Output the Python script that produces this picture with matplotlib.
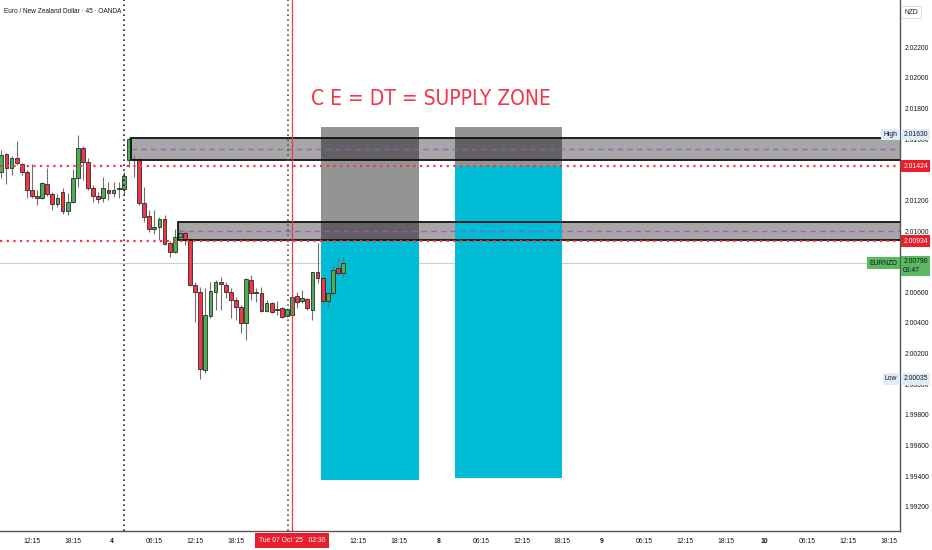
import numpy as np
import matplotlib
matplotlib.use("Agg")
import matplotlib.pyplot as plt
from matplotlib import font_manager
from matplotlib.font_manager import FontProperties
from matplotlib.patches import Rectangle

plt.rcParams["font.family"] = ["Liberation Sans", "DejaVu Sans"]

# タイトル用の細いフォントがあれば使う (立体のみ)
narrow = [f for f in font_manager.fontManager.ttflist
          if ("Narrow" in f.name or "Condensed" in f.name or f.stretch == "condensed")
          and f.style == "normal" and f.weight in ("normal", 400, "regular")]
title_font = FontProperties(fname=narrow[0].fname) if narrow else FontProperties(family="Liberation Sans")

# EURNZD 45分足 (始値, 高値, 安値, 終値)
opens = [2.01386, 2.01503, 2.01412, 2.01477, 2.01438, 2.01386, 2.01268, 2.01229, 2.01216, 2.01308,
         2.01242, 2.01177, 2.01255, 2.01131, 2.01190, 2.01347, 2.01542, 2.01451, 2.01281, 2.01229,
         2.01216, 2.01268, 2.01249, 2.01275, 2.01275, 2.01464, 2.01471, 2.01471, 2.01183, 2.01099,
         2.01014, 2.01027, 2.01079, 2.00923, 2.00864, 2.00962, 2.00988, 2.00942, 2.00649, 2.00603,
         2.00094, 2.00446, 2.00603, 2.00668, 2.00649, 2.00603, 2.00551, 2.00505, 2.00401, 2.00681,
         2.00603, 2.00597, 2.00479, 2.00531, 2.00492, 2.00499, 2.00446, 2.00453, 2.00577, 2.00544,
         2.00557, 2.00486, 2.00734, 2.00695, 2.00544, 2.00597, 2.00760, 2.00727]
highs = [2.01529, 2.01510, 2.01490, 2.01588, 2.01444, 2.01399, 2.01438, 2.01268, 2.01321, 2.01412,
         2.01255, 2.01242, 2.01281, 2.01249, 2.01405, 2.01627, 2.01555, 2.01477, 2.01301, 2.01255,
         2.01353, 2.01321, 2.01321, 2.01321, 2.01386, 2.01614, 2.01497, 2.01477, 2.01288, 2.01138,
         2.01138, 2.01092, 2.01105, 2.00936, 2.01014, 2.01014, 2.01007, 2.00955, 2.00668, 2.00636,
         2.00629, 2.00668, 2.00681, 2.00701, 2.00668, 2.00629, 2.00570, 2.00518, 2.00695, 2.00714,
         2.00629, 2.00636, 2.00551, 2.00538, 2.00544, 2.00505, 2.00499, 2.00577, 2.00603, 2.00616,
         2.00564, 2.00734, 2.00923, 2.00701, 2.00597, 2.00779, 2.00825, 2.00832]
lows = [2.01347, 2.01308, 2.01366, 2.01431, 2.01366, 2.01216, 2.01216, 2.01170, 2.01209, 2.01229,
        2.01138, 2.01157, 2.01112, 2.01105, 2.01183, 2.01288, 2.01334, 2.01268, 2.01190, 2.01183,
        2.01190, 2.01203, 2.01222, 2.01216, 2.01236, 2.01418, 2.01353, 2.01170, 2.01059, 2.00994,
        2.00981, 2.00942, 2.00910, 2.00832, 2.00858, 2.00955, 2.00910, 2.00642, 2.00407, 2.00036,
        2.00075, 2.00433, 2.00486, 2.00486, 2.00564, 2.00433, 2.00420, 2.00336, 2.00290, 2.00551,
        2.00538, 2.00473, 2.00473, 2.00466, 2.00453, 2.00433, 2.00440, 2.00446, 2.00499, 2.00531,
        2.00486, 2.00420, 2.00662, 2.00531, 2.00505, 2.00584, 2.00714, 2.00695]
closes = [2.01497, 2.01412, 2.01477, 2.01444, 2.01386, 2.01268, 2.01229, 2.01216, 2.01314, 2.01242,
          2.01177, 2.01216, 2.01131, 2.01190, 2.01347, 2.01542, 2.01451, 2.01281, 2.01229, 2.01209,
          2.01281, 2.01249, 2.01268, 2.01281, 2.01360, 2.01601, 2.01467, 2.01183, 2.01092, 2.01014,
          2.01027, 2.01079, 2.00916, 2.00864, 2.00962, 2.00988, 2.00942, 2.00649, 2.00603, 2.00101,
          2.00453, 2.00610, 2.00668, 2.00655, 2.00603, 2.00551, 2.00505, 2.00401, 2.00688, 2.00597,
          2.00597, 2.00479, 2.00531, 2.00473, 2.00486, 2.00440, 2.00492, 2.00570, 2.00538, 2.00564,
          2.00499, 2.00734, 2.00695, 2.00544, 2.00597, 2.00747, 2.00727, 2.00790]

first_bar_hour = -16.25   # 時間 (4日 0:00 基準)
bar_length = 0.75         # 45分

tick_hours = [-11.75, -5.75, 0, 6.25, 12.25, 18.25, 36.25, 42.25, 48, 54.25, 60.25, 66.25,
              72, 78.25, 84.25, 90.25, 96, 102.25, 108.25, 114.25]
tick_labels = ["12:15", "18:15", "4", "06:15", "12:15", "18:15", "12:15", "18:15", "8", "06:15",
               "12:15", "18:15", "9", "06:15", "12:15", "18:15", "10", "06:15", "12:15", "18:15"]
price_ticks = [1.992, 1.994, 1.996, 1.998, 2.000, 2.002, 2.004, 2.006, 2.008, 2.010,
               2.012, 2.014, 2.016, 2.018, 2.020, 2.022]
hidden_ticks = [2.008, 2.014]   # 価格ラベルの下に隠れる目盛

high_price = 2.01630
low_price = 2.00035
last_price = 2.00790
levels = [2.01424, 2.00934]

# オーダーブロック
zone_start = [2.8, 9.7]
zone_top = [2.01607, 2.01059]
zone_bottom = [2.01460, 2.00942]

# 四角形 (灰色 + 水色)
box_left = [30.7, 50.4]
box_right = [45.1, 66.2]
box_top = [2.01679, 2.01679]
box_mid = [2.00934, 2.01424]
box_bottom = [1.99377, 1.99390]

session_line = 1.75
cursor_hour = 26.5
cursor_dotted = 25.9

GREEN = "#4caf50"
RED = "#f23645"
CYAN = "#00bcd4"
TXT = "#131722"
FS = 4.9

fig = plt.figure(figsize=(9.32, 5.5), dpi=100)
ax = fig.add_axes([0, 19 / 550, 900 / 932, 531 / 550])

t = first_bar_hour + bar_length * np.arange(len(opens))
o = np.array(opens)
c = np.array(closes)
up = c >= o
cols = np.where(up, GREEN, RED)

ax.vlines(t, lows, highs, color="#707070", lw=0.8, zorder=4)
body_low = np.minimum(o, c)
body_h = np.maximum(np.abs(c - o), 0.00002)
ax.bar(t, body_h, bottom=body_low, width=0.55, color=cols, edgecolor="#2a2a2a",
       linewidth=0.6, zorder=5)

x_right = 200
for s, top, bot in zip(zone_start, zone_top, zone_bottom):
    ax.add_patch(Rectangle((s, bot), x_right - s, top - bot, facecolor="#8a8a8a", alpha=0.75,
                           edgecolor="none", zorder=2))
    ax.add_patch(Rectangle((s, bot), x_right - s, top - bot, facecolor="none",
                           edgecolor="#111111", lw=1.3, zorder=6))
    ax.hlines((top + bot) / 2, s, x_right, color="#a852bd", lw=1, linestyles=(0, (4, 3)),
              alpha=0.85, zorder=6)

for l, r, top, mid, bot in zip(box_left, box_right, box_top, box_mid, box_bottom):
    ax.add_patch(Rectangle((l, mid), r - l, top - mid, facecolor="black", alpha=0.42,
                           edgecolor="none", zorder=3))
    ax.add_patch(Rectangle((l, bot), r - l, mid - bot, facecolor=CYAN, edgecolor="none",
                           zorder=3))

for lv in levels:
    ax.axhline(lv, color=RED, lw=1.6, linestyle=(0, (1, 2)), zorder=7)
ax.axhline(last_price, color="#b5e0b7", lw=0.8, zorder=1)

ax.axvline(session_line, color="#222222", lw=1.2, linestyle=(0, (1, 2)), zorder=7)
ax.axvline(cursor_dotted, color="#555555", lw=1.2, linestyle=(0, (1, 2)), zorder=7)
ax.axvline(cursor_hour, color=RED, lw=0.9, zorder=7)

ax.text(46.9, 2.01862, "C E = DT = SUPPLY ZONE", color=RED, fontproperties=title_font,
        fontsize=15 if narrow else 14.5, ha="center", va="center", zorder=8)
ax.text(0.004, 0.978, "Euro / New Zealand Dollar · 45 · OANDA", transform=ax.transAxes,
        fontsize=4.7, color=TXT, ha="left", va="center")

ax.set_xlim(first_bar_hour - 0.2, first_bar_hour - 0.2 + 900 / 6.8)
ax.set_ylim(1.99043, 2.02507)

ax.set_xticks(tick_hours)
ax.set_xticklabels(tick_labels)
for lab in ax.get_xticklabels():
    if ":" not in lab.get_text():
        lab.set_fontweight("bold")
ax.set_yticks(price_ticks)
ax.set_yticklabels(["" if p in hidden_ticks else f"{p:.5f}" for p in price_ticks])
ax.yaxis.tick_right()
ax.tick_params(axis="y", length=0, pad=3.5, labelsize=FS, labelcolor=TXT)
ax.tick_params(axis="x", length=0, pad=5, labelsize=FS, labelcolor=TXT)

for sp in ["top", "left"]:
    ax.spines[sp].set_visible(False)
for sp in ["right", "bottom"]:
    ax.spines[sp].set_color("#555555")
    ax.spines[sp].set_linewidth(1.0)

ytr = ax.get_yaxis_transform()
xtr = ax.get_xaxis_transform()


def price_tag(y, text, fc, tc, x=1.0035, ha="left"):
    ax.text(x, y, text, transform=ytr, fontsize=FS, color=tc, ha=ha, va="center",
            bbox=dict(boxstyle="square,pad=0.35", fc=fc, ec="none"), clip_on=False, zorder=9)


price_tag(levels[0], f"{levels[0]:.5f}", "#e8202e", "white")
price_tag(levels[1], f"{levels[1]:.5f}", "#e8202e", "white")
price_tag(high_price, f"{high_price:.5f}", "#e1ecf9", TXT)
price_tag(high_price, "High", "#e1ecf9", TXT, x=0.997, ha="right")
price_tag(low_price, f"{low_price:.5f}", "#e1ecf9", TXT)
price_tag(low_price, "Low", "#e1ecf9", TXT, x=0.997, ha="right")
ax.text(1.0035, last_price + 0.00032, f"{last_price:.5f}\n03:47", transform=ytr, fontsize=FS,
        color=TXT, ha="left", va="top", linespacing=1.35,
        bbox=dict(boxstyle="square,pad=0.35", fc="#5cb860", ec="none"), clip_on=False, zorder=9)
price_tag(last_price, "EURNZD", "#5cb860", TXT, x=0.997, ha="right")

ax.text(cursor_hour, -0.018, "Tue 07 Oct '25   02:30", transform=xtr, fontsize=FS,
        color="white", ha="center", va="center",
        bbox=dict(boxstyle="square,pad=0.55", fc="#e8202e", ec="none"), clip_on=False, zorder=9)

fig.text(911 / 932, 1 - 12 / 550, "NZD", fontsize=FS, color=TXT, ha="center", va="center",
         bbox=dict(boxstyle="square,pad=0.4", fc="white", ec="#d6d6d6", lw=0.6))

fig.savefig("out.png", dpi=100)
